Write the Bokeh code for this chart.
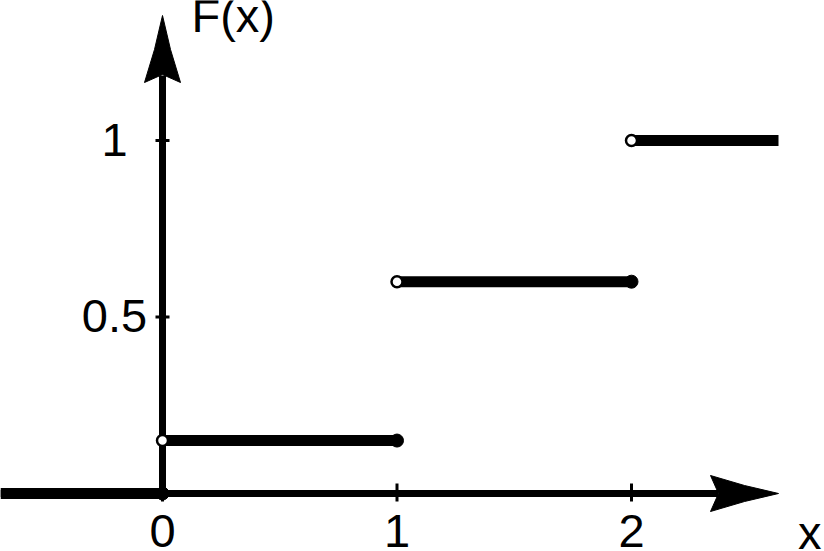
from bokeh.plotting import figure
from bokeh.models import Range1d
from bokeh.embed import file_html
from bokeh.resources import INLINE
from bokeh.core.properties import value

# ---- data ----
jump_points = [0, 1, 2]
cdf_levels = [0.15, 0.6, 1.0]
x_ticks = [0, 1, 2]
x_tick_labels = ["0", "1", "2"]
y_ticks = [0.5, 1]
y_tick_labels = ["0.5", "1"]
x_axis_label = "x"
y_axis_label = "F(x)"

# ---- layout (pixels) ----
W, H = 824, 551
SX, SY = 234.5, 353.0          # pixels per data unit
X0PX, Y0PX = 162, H - 493       # origin position (from left, from bottom)
x_start, x_end = -X0PX / SX, (W - X0PX) / SX
y_start, y_end = -Y0PX / SY, (H - Y0PX) / SY
x_tip = (778 - 162) / SX
y_tip = (493 - 15) / SY
FONT = value("Liberation Sans")
BLACK = "#000000"

p = figure(width=W, height=H, x_range=Range1d(x_start, x_end),
           y_range=Range1d(y_start, y_end), output_backend="svg",
           toolbar_location=None, min_border=0,
           x_axis_type=None, y_axis_type=None)
p.grid.visible = False
p.outline_line_color = None
p.background_fill_color = "white"
p.border_fill_color = "white"

# axes lines
p.segment(x0=[x_start], y0=[0], x1=[x_tip - 60 / SX], y1=[0],
          line_width=7, line_color=BLACK)
p.segment(x0=[0], y0=[0], x1=[0], y1=[y_tip - 60 / SY],
          line_width=7, line_color=BLACK)

# arrow heads (slightly swept)
p.patch(x=[x_tip, x_tip - 34 / SX, x_tip - 68 / SX, x_tip - 60 / SX,
           x_tip - 68 / SX, x_tip - 34 / SX],
        y=[0, 8 / SY, 18 / SY, 0, -18 / SY, -8 / SY],
        fill_color=BLACK, line_color=BLACK, line_width=1)
p.patch(x=[0, 8 / SX, 18 / SX, 0, -18 / SX, -8 / SX],
        y=[y_tip, y_tip - 34 / SY, y_tip - 67 / SY, y_tip - 59 / SY,
           y_tip - 67 / SY, y_tip - 34 / SY],
        fill_color=BLACK, line_color=BLACK, line_width=1)

# ticks
p.segment(x0=[-7 / SX] * len(y_ticks), y0=y_ticks,
          x1=[7 / SX] * len(y_ticks), y1=y_ticks,
          line_width=3, line_color=BLACK)
p.segment(x0=x_ticks, y0=[-8 / SY] * len(x_ticks),
          x1=x_ticks, y1=[10 / SY] * len(x_ticks),
          line_width=3, line_color=BLACK)

# step function
starts = [x_start] + jump_points
ends = jump_points + [x_tip]
levels = [0] + cdf_levels
p.segment(x0=starts, y0=levels, x1=ends, y1=levels,
          line_width=11, line_color=BLACK)

# closed dots (right ends) and open circles (left ends)
p.scatter(x=jump_points, y=levels[:-1], size=13, marker="circle",
          fill_color=BLACK, line_color=BLACK)
p.scatter(x=jump_points, y=cdf_levels, size=11, marker="circle",
          fill_color="white", line_color=BLACK, line_width=2.5)

# tick labels
p.text(x=[0] * len(y_ticks), y=y_ticks, text=y_tick_labels,
       text_align="center", text_baseline="alphabetic",
       x_offset=-48, y_offset=-1, text_font=FONT,
       text_font_size="47px", text_color=BLACK)
p.text(x=x_ticks, y=[0] * len(x_ticks), text=x_tick_labels,
       text_align="center", text_baseline="alphabetic",
       y_offset=37, text_font=FONT, text_font_size="47px",
       text_color=BLACK)

# axis labels
p.text(x=[0], y=[y_tip], text=[y_axis_label], text_align="left",
       text_baseline="alphabetic", x_offset=29, y_offset=0,
       text_font=FONT, text_font_size="47px", text_color=BLACK)
p.text(x=[x_end], y=[y_start], text=[x_axis_label], text_align="right",
       text_baseline="alphabetic", x_offset=-3, y_offset=-19,
       text_font=FONT, text_font_size="47px", text_color=BLACK)

open("out.html", "w").write(file_html(p, INLINE))
